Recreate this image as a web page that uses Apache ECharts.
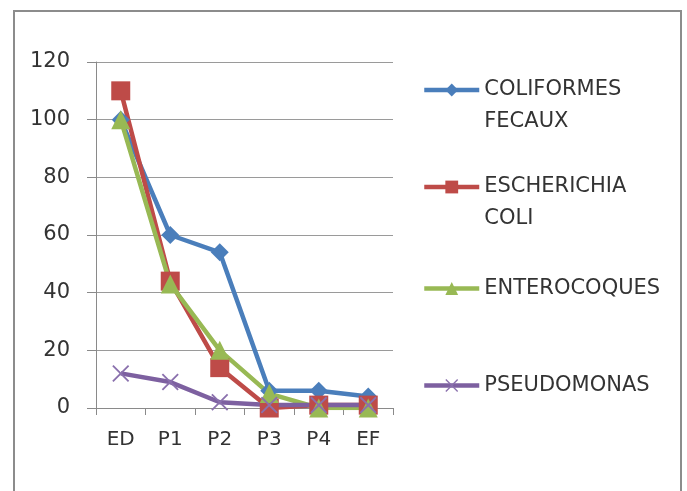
<!DOCTYPE html>
<html>
<head>
<meta charset="utf-8">
<script src="https://cdn.jsdelivr.net/npm/echarts@6/dist/echarts.min.js"></script>
<style>
html,body{margin:0;padding:0;background:#fff;}
#c{width:687px;height:491px;}
</style>
</head>
<body>
<div id="c"></div>
<script>
const categories = ['ED', 'P1', 'P2', 'P3', 'P4', 'EF'];
const coliformesFecaux = [100, 60, 54, 6, 6, 4];
const escherichiaColi = [110, 44, 14, 0, 1, 1];
const enterocoques = [100, 43, 20, 5, 0, 0];
const pseudomonas = [12, 9, 2, 1, 1, 1];
const seriesNames = ['COLIFORMES FECAUX', 'ESCHERICHIA COLI', 'ENTEROCOQUES', 'PSEUDOMONAS'];
const yTicks = [0, 20, 40, 60, 80, 100, 120];

const FONT = 'DejaVu Sans';
const TXT = '#333333';
const colors = ['#4a7ebb', '#be4b48', '#98b954', '#7d60a0'];
const crossPath = 'path://M0,1.5 L1.5,0 L10,8.5 L18.5,0 L20,1.5 L11.5,10 L20,18.5 L18.5,20 L10,11.5 L1.5,20 L0,18.5 L8.5,10 Z';

const chart = echarts.init(document.getElementById('c'));

function mkLegend(name, top, twoLines) {
  return {
    data: [name],
    left: 422,
    top: top,
    padding: 0,
    itemWidth: 55,
    itemHeight: 16,
    itemGap: 5,
    selectedMode: false,
    lineStyle: { width: 4.5 },
    formatter: n => twoLines ? ' \n' + n.replace(' ', '\n') : n,
    textStyle: { fontFamily: FONT, fontSize: 21, color: TXT, lineHeight: 32 }
  };
}

const option = {
  backgroundColor: '#fff',
  animation: false,
  graphic: [{
    type: 'rect',
    shape: { x: 14, y: 11, width: 667, height: 520 },
    style: { fill: 'none', stroke: '#8c8c8c', lineWidth: 2 },
    silent: true
  }],
  grid: { left: 96, right: 294, top: 62, bottom: 83 },
  legend: [
    mkLegend(seriesNames[0], 42, true),
    mkLegend(seriesNames[1], 139, true),
    mkLegend(seriesNames[2], 272.5, false),
    mkLegend(seriesNames[3], 369.5, false)
  ],
  xAxis: {
    type: 'category',
    data: categories,
    boundaryGap: true,
    axisLine: { lineStyle: { color: '#8a8a8a', width: 1 } },
    axisTick: { show: true, length: 7, lineStyle: { color: '#8a8a8a' } },
    axisLabel: { fontFamily: FONT, fontSize: 20, color: TXT, margin: 22 }
  },
  yAxis: {
    type: 'value',
    min: yTicks[0],
    max: yTicks[yTicks.length - 1],
    interval: 20,
    axisLine: { show: true, lineStyle: { color: '#8a8a8a', width: 1 } },
    axisTick: { show: true, length: 9, lineStyle: { color: '#8a8a8a' } },
    splitLine: { show: true, lineStyle: { color: '#9a9a9a', width: 1 } },
    axisLabel: { fontFamily: FONT, fontSize: 21, color: TXT, margin: 26 }
  },
  series: [
    {
      name: seriesNames[0], type: 'line', data: coliformesFecaux,
      symbol: 'diamond', symbolSize: 18,
      color: colors[0],
      lineStyle: { width: 4.5, color: colors[0] },
      itemStyle: { color: colors[0] }
    },
    {
      name: seriesNames[1], type: 'line', data: escherichiaColi,
      symbol: 'rect', symbolSize: 19,
      color: colors[1],
      lineStyle: { width: 4.5, color: colors[1] },
      itemStyle: { color: colors[1] }
    },
    {
      name: seriesNames[2], type: 'line', data: enterocoques,
      symbol: 'triangle', symbolSize: 19,
      color: colors[2],
      lineStyle: { width: 4.5, color: colors[2] },
      itemStyle: { color: colors[2] }
    },
    {
      name: seriesNames[3], type: 'line', data: pseudomonas,
      symbol: crossPath, symbolSize: 17,
      color: colors[3],
      lineStyle: { width: 4.5, color: colors[3] },
      itemStyle: { color: '#8a70ad' }
    }
  ]
};
chart.setOption(option);
</script>
</body>
</html>
